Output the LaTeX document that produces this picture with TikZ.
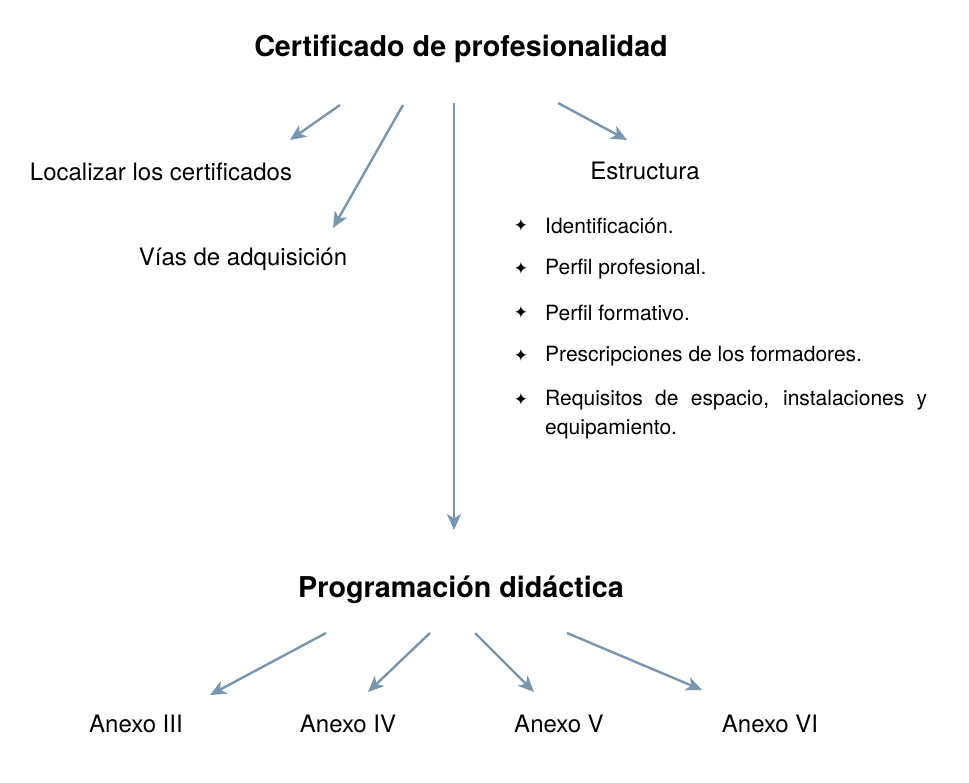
\documentclass[tikz,border=0pt]{standalone}
\usepackage{fontspec}
\setmainfont{TeX Gyre Heros}
\newfontfamily\symfont{DejaVu Sans}
\usetikzlibrary{arrows.meta}
\definecolor{arrowblue}{RGB}{120,150,175}
\tikzset{
  conn/.style={draw=arrowblue, line width=2.4pt, -{Stealth[length=16pt,width=14pt,inset=4.5pt]}},
  titlebox/.style={font=\fontsize{28.7}{32}\selectfont\bfseries, inner sep=0pt},
  labelbox/.style={font=\fontsize{24}{28}\selectfont, inner sep=0pt},
  itembox/.style={font=\fontsize{21}{29}\selectfont, inner sep=0pt, anchor=west},
  starbox/.style={font=\symfont\fontsize{17}{19}\selectfont, inner sep=0pt},
}
\begin{document}
\begin{tikzpicture}[x=1pt,y=-1pt]
\useasboundingbox (0,0) rectangle (969,783);
\node[titlebox] (cert) at (461,49) {Certificado de profesionalidad};
\node[labelbox] (loc) at (161,172) {Localizar los certificados};
\node[labelbox] (vias) at (243,259) {Vías de adquisición};
\node[labelbox] (estr) at (645,171) {Estructura};
\node[titlebox] (prog) at (461,590) {Programación didáctica};
\node[labelbox] (a3) at (136,724) {Anexo III};
\node[labelbox] (a4) at (348,724) {Anexo IV};
\node[labelbox] (a5) at (559,724) {Anexo V};
\node[labelbox] (a6) at (770,724) {Anexo VI};

\node[starbox] (s1) at (521,225) {✦};
\node[starbox] (s2) at (521,268) {✦};
\node[starbox] (s3) at (521,312) {✦};
\node[starbox] (s4) at (521,355) {✦};
\node[starbox] (s5) at (521,399) {✦};
\node[itembox] (i1) at (545,226) {Identificación.};
\node[itembox] (i2) at (545,269) {Perfil profesional.};
\node[itembox] (i3) at (545,313) {Perfil formativo.};
\node[itembox] (i4) at (545,356) {Prescripciones de los formadores.};
\node[itembox, anchor=north west, text width=382pt, align=justify] (i5) at (545,390) {Requisitos de espacio, instalaciones y equipamiento.};

\coordinate (c1s) at (340,105); \coordinate (c1e) at (290,140);
\coordinate (c2s) at (403,105); \coordinate (c2e) at (333,228);
\coordinate (c3s) at (454,103); \coordinate (c3e) at (454,530);
\coordinate (c4s) at (558,103); \coordinate (c4e) at (627,140);
\coordinate (d1s) at (326,633); \coordinate (d1e) at (210,695);
\coordinate (d2s) at (430,633); \coordinate (d2e) at (368,692);
\coordinate (d3s) at (475,633); \coordinate (d3e) at (534,692);
\coordinate (d4s) at (567,633); \coordinate (d4e) at (702,690);
\draw[conn] (c1s) -- (c1e);
\draw[conn] (c2s) -- (c2e);
\draw[conn] (c3s) -- (c3e);
\draw[conn] (c4s) -- (c4e);
\draw[conn] (d1s) -- (d1e);
\draw[conn] (d2s) -- (d2e);
\draw[conn] (d3s) -- (d3e);
\draw[conn] (d4s) -- (d4e);
\end{tikzpicture}
\end{document}
